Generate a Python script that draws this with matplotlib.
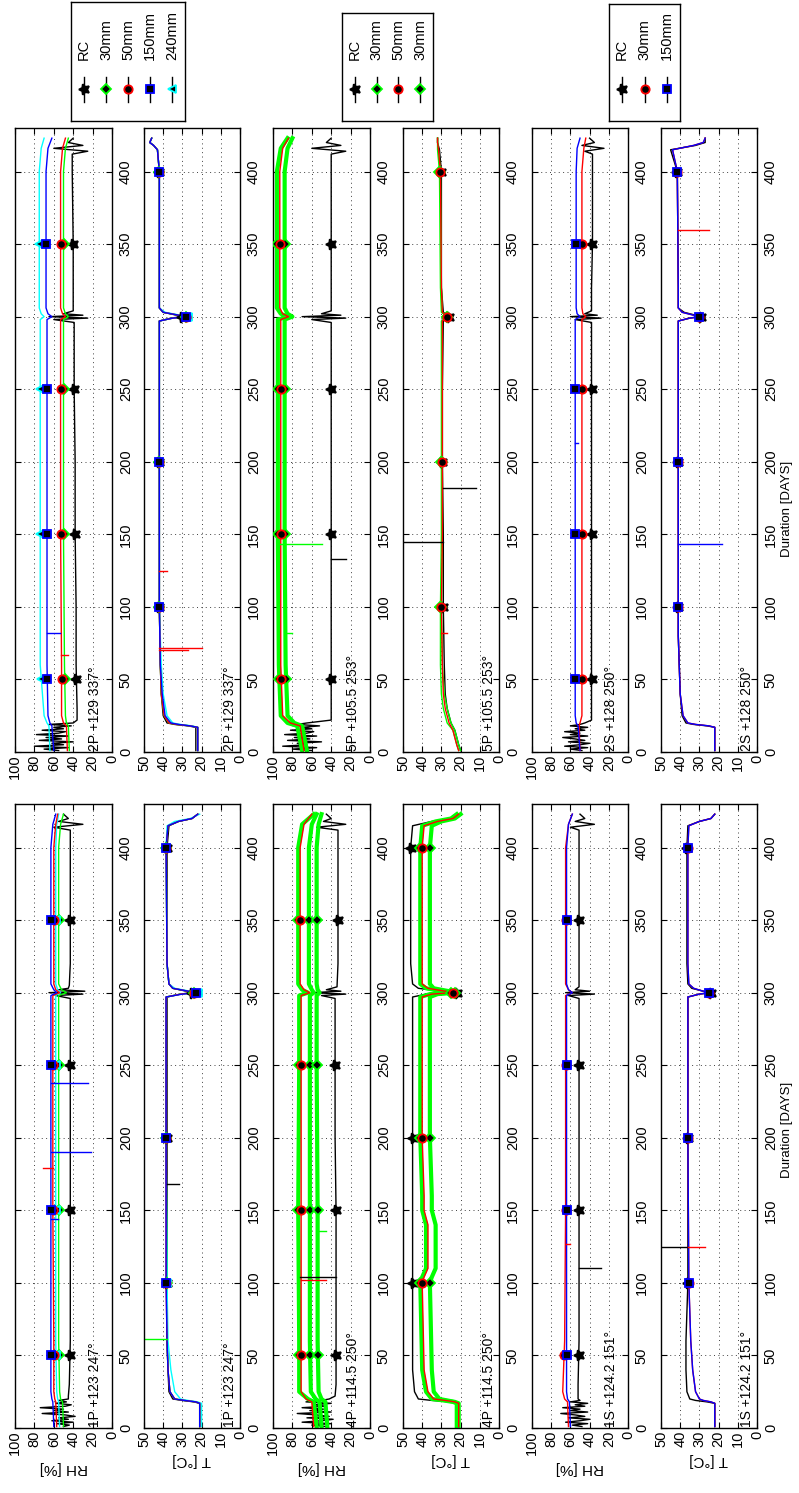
import numpy as np
import matplotlib
matplotlib.use("Agg")
import matplotlib.pyplot as plt

plt.rcParams["font.family"] = ["Liberation Sans", "DejaVu Sans"]

W, H = 799, 1493
# panel strips (pixel x ranges) and halves (pixel y ranges)
COLS = [(15, 112), (144, 240), (273, 370), (403, 499), (532, 628), (661, 757)]
HALVES = {"bot": (804, 1428), "top": (128, 752)}

RH_MARK = [50, 150, 250, 350]
T_MARK = [100, 200, 300, 400]

# ---------------- 1P ----------------
P1_RH_RC_D = [1, 2, 3, 4, 5, 6, 7, 8, 9, 10, 11, 12, 13, 14, 15, 16, 17, 18, 19, 20,
              22, 30, 60, 100, 150, 200, 250, 296, 298, 299, 300, 301, 302, 303, 305,
              320, 350, 400, 412, 414, 416, 418, 420, 423]
P1_RH_RC_V = [50, 44, 57, 40, 62, 45, 55, 38, 48, 72, 45, 60, 50, 74, 48, 42, 58, 47, 55, 45,
              45, 44, 43, 43, 43, 43, 43, 43, 58, 30, 65, 28, 55, 45, 44,
              43, 43, 43, 43, 60, 30, 55, 45, 50]
G_D = [1, 18, 20, 25, 60, 150, 250, 298, 300, 302, 306, 350, 400, 416, 423]
P1_RH_30 = [50, 51, 53, 54, 55, 55, 55, 55, 47, 52, 55, 55, 55, 53, 50]
P1_RH_50 = [57, 58, 59, 60, 60, 61, 61, 61, 54, 58, 60, 60, 60, 58, 56]
P1_RH_150 = [60, 61, 62, 63, 63, 63, 63, 63, 57, 60, 63, 63, 63, 61, 58]
P1_RH_240 = [54, 55, 56, 57, 58, 58, 58, 58, 53, 56, 58, 58, 58, 57, 55]
P1_RH_SPIKES = [("blue", 190, 63, 22), ("blue", 238, 63, 25), ("red", 179, 61, 71),
                ("blue", 144, 63, 56)]

T1_D = [1, 17, 18, 19, 20, 25, 40, 60, 100, 200, 297, 299, 300, 301, 303, 306, 320,
        400, 415, 418, 420, 423]
P1_T_RC = [21, 21, 24, 30, 35, 37, 37.5, 38, 38, 38, 38, 31, 25, 28, 35, 37, 38, 38, 37, 32, 25, 22]
P1_T_30 = [21, 21, 23, 29, 34, 36.5, 37.5, 38, 38, 38.5, 38.5, 31, 24, 27, 35, 37, 38, 38.5, 37.5, 32, 25, 22]
P1_T_50 = [21, 21, 23, 29, 34, 36.5, 37.5, 38, 38.5, 38.5, 38.5, 31, 24, 27, 35, 37, 38, 38.5, 37.5, 32, 25, 22]
P1_T_150 = [21, 21, 23, 29, 34, 36.5, 37.5, 38, 38.5, 38.5, 38.5, 30, 23, 27, 35, 37, 38, 38.5, 37.5, 32, 25, 22]
P1_T_240 = [20, 20, 22, 27, 31, 34, 36, 37.5, 38, 38.5, 38.5, 31, 22, 26, 34, 37, 38, 38.5, 38, 34, 26, 21]
P1_T_SPIKES = [("#00ff00", 61, 38, 50), ("black", 168, 38, 32)]

# ---------------- 4P ----------------
P4_RH_RC_D = [1, 2, 3, 4, 5, 6, 7, 8, 9, 10, 11, 12, 13, 14, 15, 16, 17, 18, 19, 20,
              22, 30, 60, 100, 103, 150, 200, 250, 296, 298, 299, 300, 301, 302, 304,
              320, 350, 400, 412, 414, 416, 418, 420, 423]
P4_RH_RC_V = [45, 60, 40, 70, 50, 38, 65, 42, 55, 75, 40, 62, 48, 70, 45, 58, 40, 66, 50, 42,
              36, 35, 35, 35, 35, 35, 36, 36, 36, 50, 25, 60, 30, 45, 34,
              33, 33, 33, 33, 55, 25, 48, 40, 45]
P4_RH_50 = [58, 60, 66, 71, 71, 71, 71, 71, 62, 68, 72, 72, 72, 68, 60]
P4_RH_30A = [55, 58, 64, 73, 73, 74, 73, 73, 64, 70, 74, 74, 74, 70, 58]
P4_RH_30B = [50, 52, 56, 61, 62, 62, 62, 62, 58, 60, 63, 63, 63, 60, 55]
P4_RH_30C = [44, 46, 50, 53, 54, 54, 55, 55, 52, 54, 55, 55, 55, 53, 50]
P4_RH_SPIKES = [("black", 104, 35, 72), ("red", 102, 71, 45), ("#00ff00", 136, 54, 45)]

T4_D = [1, 17, 18, 19, 20, 25, 40, 100, 104, 110, 140, 150, 160, 200, 250, 297, 299,
        300, 301, 303, 306, 320, 400, 415, 418, 420, 423]
P4_T_RC = [21, 21, 25, 35, 42, 44, 45, 45, 45, 45, 45, 45, 45, 45, 45, 45, 38, 22, 30, 42,
           45, 46, 46, 45, 35, 25, 22]
P4_T_50 = [21, 21, 23, 28, 34, 37, 39, 40, 39, 37, 37, 39, 39, 40, 40, 40, 35, 24, 28, 37,
           40, 40, 40, 39, 32, 24, 21]
P4_T_30A = [22, 22, 24, 29, 35, 38, 40, 41, 40, 38, 38, 40, 40, 41, 41, 41, 36, 25, 29, 38,
            41, 41, 41, 40, 33, 25, 22]
P4_T_30B = [21, 21, 23, 27, 31, 34, 35, 36, 35, 33, 33, 35, 35, 36, 36, 36, 32, 23, 26, 34,
            36, 36, 36, 35, 30, 23, 20]

# ---------------- 1S ----------------
S1_RH_RC_D = [1, 2, 3, 4, 5, 6, 7, 8, 9, 10, 11, 12, 13, 14, 15, 16, 17, 18, 19, 20,
              22, 30, 60, 100, 150, 200, 250, 296, 298, 299, 300, 301, 302, 304, 320,
              350, 400, 412, 414, 416, 418, 420, 423]
S1_RH_RC_V = [48, 58, 42, 65, 50, 40, 62, 45, 55, 70, 42, 60, 50, 68, 45, 55, 42, 60, 50, 52,
              52, 52, 51, 51, 51, 51, 51, 51, 62, 35, 65, 40, 55, 51, 51,
              51, 51, 51, 60, 35, 55, 45, 50]
S1_RH_30 = [62, 63, 66, 68, 66, 65, 65, 65, 58, 62, 65, 65, 65, 62, 58]
S1_RH_150 = [60, 61, 63, 64, 64, 64, 64, 64, 58, 62, 64, 64, 64, 62, 58]
S1_RH_SPIKES = [("black", 110, 51, 28), ("red", 127, 65, 60)]

T6_D = [1, 17, 18, 19, 20, 25, 40, 60, 80, 100, 200, 297, 299, 300, 301, 303, 306, 320,
        400, 415, 418, 420, 423]
S1_T_RC = [22, 22, 26, 32, 35, 36.5, 37, 37, 36.5, 36, 36, 36, 30, 24, 28, 34, 36, 36.5,
           36.5, 36, 30, 24, 22]
S1_T_30 = [22, 22, 24, 28, 30, 32, 33.5, 34.5, 35, 35.5, 36, 36, 30, 25, 28, 33, 35.5, 36,
           36, 35.5, 30, 24, 22]
S1_T_150 = [22, 22, 24, 28, 30, 32, 33.5, 34.5, 35, 35.5, 36, 36, 30, 25, 28, 33, 35.5, 36,
            36, 35.5, 30, 24, 22]
S1_T_SPIKES = [("black", 125, 36, 50), ("red", 125, 36, 27)]

# ---------------- 2P ----------------
P2_RH_RC_D = S1_RH_RC_D
P2_RH_RC_V = [55, 70, 45, 80, 50, 62, 40, 75, 52, 68, 45, 78, 55, 48, 72, 50, 60, 42, 65, 40,
              36, 36, 37, 37, 38, 38, 39, 39, 60, 25, 65, 30, 50, 40, 40,
              40, 41, 41, 25, 60, 30, 45, 40]
P2_RH_30 = [44, 45, 47, 48, 49, 50, 50, 50, 45, 48, 50, 50, 50, 48, 45]
P2_RH_50 = [46, 47, 50, 52, 52, 53, 53, 53, 48, 51, 53, 53, 53, 51, 48]
P2_RH_150 = [60, 62, 64, 66, 67, 67, 67, 67, 62, 66, 68, 68, 68, 66, 62]
P2_RH_240 = [64, 65, 67, 70, 74, 74, 74, 74, 70, 73, 75, 75, 75, 73, 70]
P2_RH_SPIKES = [("blue", 82, 67, 54), ("red", 67, 53, 45), ("red", 350, 53, 48)]

P2_T_RC = [23, 23, 27, 34, 38, 40, 41, 41.5, 42, 42, 42, 36, 30, 33, 40, 42, 42, 42, 43, 45, 47, 46]
P2_T_30 = [22, 22, 26, 33, 37, 39.5, 41, 41.5, 42, 42, 42, 35, 28, 32, 40, 42, 42, 42, 43, 45, 47, 46]
P2_T_50 = [22, 22, 26, 33, 37, 39.5, 41, 41.5, 42, 42, 42, 35, 28, 32, 40, 42, 42, 42, 43, 45, 47, 46]
P2_T_150 = [22, 22, 26, 32, 36, 39, 40.5, 41.5, 42, 42, 42, 35, 28, 32, 40, 42, 42, 42, 43, 45, 47, 46]
P2_T_240 = [22, 22, 25, 31, 35, 38, 40, 41, 42, 42, 42, 35, 27, 31, 39, 42, 42, 42, 43, 45, 47, 46]
P2_T_SPIKES = [("red", 72, 42, 20), ("red", 70, 42, 27), ("red", 125, 42, 38)]

# ---------------- 5P ----------------
P5_RH_RC_V = [60, 80, 55, 90, 65, 75, 50, 85, 62, 78, 55, 88, 65, 58, 82, 60, 70, 52, 75, 65,
              40, 40, 40, 40, 40, 40, 40, 40, 60, 25, 70, 30, 50, 40, 40,
              40, 40, 40, 25, 60, 30, 45, 40]
P5_RH_30A = [70, 75, 85, 92, 94, 95, 95, 95, 85, 92, 96, 96, 96, 92, 85]
P5_RH_50 = [68, 72, 82, 90, 92, 92, 92, 92, 84, 90, 93, 93, 93, 90, 84]
P5_RH_30B = [65, 70, 78, 85, 87, 88, 88, 88, 80, 85, 88, 88, 88, 85, 80]
P5_RH_SPIKES = [("#00ff00", 143, 95, 50), ("black", 133, 40, 25), ("#00ff00", 82, 88, 80)]

T5_D = [1, 5, 10, 15, 20, 30, 40, 60, 100, 150, 200, 250, 297, 300, 303, 320, 400, 415, 420, 423]
P5_T_RC = [20, 21, 22, 23, 25, 27, 28, 28.5, 29, 29, 29.5, 29.5, 29, 26, 29, 30, 30, 31, 32, 32]
P5_T_30A = [21, 22, 23, 24, 27, 29, 30, 30.5, 30.5, 30, 30, 30, 30, 27, 30, 30.5, 31, 32, 32, 32]
P5_T_50 = [21, 22, 23, 24, 26, 28, 29, 29.5, 30, 29.5, 29.5, 29.5, 29.5, 27, 29.5, 30, 30.5, 31.5, 32, 32]
P5_T_30B = [20, 21, 22, 23, 25, 27, 28.5, 29.5, 30, 29.5, 29.5, 29.5, 29.5, 27, 29.5, 30, 30.5, 31.5, 32, 32]
P5_T_SPIKES = [("black", 145, 29, 50), ("black", 182, 29, 12), ("red", 82, 30, 27)]

# ---------------- 2S ----------------
S2_RH_RC_V = [48, 60, 42, 66, 50, 40, 62, 45, 55, 68, 42, 60, 50, 66, 45, 55, 42, 60, 50, 45,
              38, 38, 38, 38, 38, 38, 38, 38, 55, 28, 60, 32, 45, 38, 38,
              37, 37, 37, 45, 25, 48, 35, 40]
S2_RH_30 = [50, 51, 50, 48, 48, 48, 48, 48, 44, 47, 48, 48, 48, 46, 44]
S2_RH_150 = [50, 52, 54, 55, 55, 55, 55, 55, 50, 53, 54, 54, 54, 53, 50]
S2_RH_SPIKES = [("blue", 213, 55, 52)]

S2_T_RC = [22, 22, 26, 33, 37, 39, 40, 40.5, 41, 41, 41, 41, 35, 29, 32, 38, 41, 41, 41.5, 45, 32, 27, 27]
S2_T_30 = [22, 22, 25, 32, 36, 38.5, 40, 40.5, 41, 41, 41, 41, 35, 30, 33, 39, 41, 41, 41.5, 44, 33, 28, 27]
S2_T_150 = [22, 22, 25, 32, 36, 38.5, 40, 40.5, 41, 41, 41, 41, 35, 30, 33, 39, 41, 41, 41.5, 44, 33, 28, 27]
S2_T_SPIKES = [("blue", 143, 41, 18), ("red", 360, 41, 25)]

PANEL_TEXT = {"1P": "1P +123 247°", "2P": "2P +129 337°", "4P": "4P +114.5 250°",
              "5P": "5P +105.5 253°", "1S": "1S +124.2 151°", "2S": "2S +128 250°"}

# sensor styles: colour, marker, marker size, line width
GREEN = "#00ff00"
STY = {
    "RC": ("black", (5, 1, 90), 8, 1.0),
    "30g": (GREEN, "D", 5, 1.0),
    "30gw": (GREEN, "D", 5, 3.0),
    "50": ("red", "o", 6, 1.0),
    "30r": ("red", "o", 6, 1.0),
    "150": ("blue", "s", 5.5, 1.0),
    "240": ("cyan", "<", 6, 1.0),
}


def add_axes_px(x0, x1, y0, y1):
    return fig.add_axes([x0 / W, 1 - y1 / H, (x1 - x0) / W, (y1 - y0) / H])


def panel(col, half, vmax, vstep, series, marks, spikes, text, xlabel=None, dur=None):
    x0, x1 = COLS[col]
    y0, y1 = HALVES[half]
    ax = add_axes_px(x0, x1, y0, y1)
    for d, v, key in series:
        c, m, ms, lw = STY[key]
        ax.plot(v, d, color=c, lw=lw, zorder=2)
        mv = np.interp(marks, d, v)
        ax.plot(mv, marks, ls="none", marker=m, mfc="black", mec=c, ms=ms,
                mew=1.3, zorder=3)
    for c, day, base, tip in spikes:
        ax.plot([base, tip], [day, day], color=c, lw=1.0, zorder=2)
    ax.set_xlim(vmax, 0)
    ax.set_ylim(0, 430)
    ax.set_xticks(np.arange(0, vmax + 1, vstep))
    ax.set_yticks(np.arange(0, 401, 50))
    ax.tick_params(direction="in", length=4, width=0.8, top=True, bottom=True,
                   left=True, right=True, labelleft=False, labelright=True,
                   labelsize=10.5)
    ax.tick_params(axis="x", labelrotation=90, pad=2)
    ax.tick_params(axis="y", labelrotation=90, pad=5)
    for lab in ax.get_yticklabels():
        lab.set_va("center")
    ax.grid(True, ls=(0, (1, 3.5)), color="0.25", lw=0.7)
    for s in ax.spines.values():
        s.set_linewidth(1.0)
    off = 10 if vmax == 100 else 3
    ax.annotate(text, xy=(1, 0), xycoords="axes fraction", xytext=(-off, 1),
                textcoords="offset pixels", rotation=90, ha="right", va="bottom",
                fontsize=10)
    if xlabel:
        ax.set_xlabel(xlabel, rotation=180, fontsize=11, labelpad=4)
    if dur is not None:
        ax.yaxis.set_label_position("right")
        ax.set_ylabel("Duration [DAYS]", rotation=90, fontsize=9.5, va="center")
        ax.yaxis.set_label_coords(1.31, dur)
    return ax


def legend_box(x0, x1, y0, y1, items):
    lax = add_axes_px(x0, x1, y0, y1)
    lax.set_xlim(x0, x1)
    lax.set_ylim(y1, y0)
    lax.set_xticks([])
    lax.set_yticks([])
    for s in lax.spines.values():
        s.set_linewidth(1.0)
    n = len(items)
    xs = np.linspace(x0 + 13, x1 - 13, n)
    for xi, (label, key) in zip(xs, items):
        c, m, ms, lw = STY[key]
        lax.plot([xi, xi], [y1 - 44, y1 - 19], color="black", lw=1.0)
        lax.plot([xi], [y1 - 32], marker=m, mfc="black", mec=c, ms=ms, mew=1.3)
        lax.text(xi, y1 - 61, label, rotation=90, ha="center", va="bottom", fontsize=10.5)


fig = plt.figure(figsize=(W / 100, H / 100), dpi=100)

# 1P / 2P
panel(0, "bot", 100, 20,
      [(P1_RH_RC_D, P1_RH_RC_V, "RC"), (G_D, P1_RH_30, "30g"), (G_D, P1_RH_240, "240"),
       (G_D, P1_RH_50, "50"), (G_D, P1_RH_150, "150")],
      RH_MARK, P1_RH_SPIKES, PANEL_TEXT["1P"], xlabel="RH [%]")
panel(1, "bot", 50, 10,
      [(T1_D, P1_T_RC, "RC"), (T1_D, P1_T_30, "30g"), (T1_D, P1_T_240, "240"),
       (T1_D, P1_T_50, "50"), (T1_D, P1_T_150, "150")],
      T_MARK, P1_T_SPIKES, PANEL_TEXT["1P"], xlabel="T [°C]")
panel(0, "top", 100, 20,
      [(P2_RH_RC_D, P2_RH_RC_V, "RC"), (G_D, P2_RH_30, "30g"), (G_D, P2_RH_240, "240"),
       (G_D, P2_RH_50, "50"), (G_D, P2_RH_150, "150")],
      RH_MARK, P2_RH_SPIKES, PANEL_TEXT["2P"])
panel(1, "top", 50, 10,
      [(T1_D, P2_T_RC, "RC"), (T1_D, P2_T_30, "30g"), (T1_D, P2_T_240, "240"),
       (T1_D, P2_T_50, "50"), (T1_D, P2_T_150, "150")],
      T_MARK, P2_T_SPIKES, PANEL_TEXT["2P"])

# 4P / 5P
panel(2, "bot", 100, 20,
      [(P4_RH_RC_D, P4_RH_RC_V, "RC"), (G_D, P4_RH_30A, "30gw"), (G_D, P4_RH_30B, "30gw"),
       (G_D, P4_RH_30C, "30gw"), (G_D, P4_RH_50, "50")],
      RH_MARK, P4_RH_SPIKES, PANEL_TEXT["4P"], xlabel="RH [%]")
panel(3, "bot", 50, 10,
      [(T4_D, P4_T_RC, "RC"), (T4_D, P4_T_30A, "30gw"), (T4_D, P4_T_30B, "30gw"),
       (T4_D, P4_T_50, "50")],
      T_MARK, [], PANEL_TEXT["4P"], xlabel="T [°C]")
panel(2, "top", 100, 20,
      [(P2_RH_RC_D, P5_RH_RC_V, "RC"), (G_D, P5_RH_30A, "30gw"), (G_D, P5_RH_30B, "30gw"),
       (G_D, P5_RH_50, "50")],
      RH_MARK, P5_RH_SPIKES, PANEL_TEXT["5P"])
panel(3, "top", 50, 10,
      [(T5_D, P5_T_RC, "RC"), (T5_D, P5_T_30A, "30g"), (T5_D, P5_T_30B, "30g"),
       (T5_D, P5_T_50, "50")],
      T_MARK, P5_T_SPIKES, PANEL_TEXT["5P"])

# 1S / 2S
panel(4, "bot", 100, 20,
      [(S1_RH_RC_D, S1_RH_RC_V, "RC"), (G_D, S1_RH_30, "30r"), (G_D, S1_RH_150, "150")],
      RH_MARK, S1_RH_SPIKES, PANEL_TEXT["1S"], xlabel="RH [%]")
panel(5, "bot", 50, 10,
      [(T6_D, S1_T_RC, "RC"), (T6_D, S1_T_30, "30r"), (T6_D, S1_T_150, "150")],
      T_MARK, S1_T_SPIKES, PANEL_TEXT["1S"], xlabel="T [°C]", dur=0.478)
panel(4, "top", 100, 20,
      [(S1_RH_RC_D, S2_RH_RC_V, "RC"), (G_D, S2_RH_30, "30r"), (G_D, S2_RH_150, "150")],
      RH_MARK, S2_RH_SPIKES, PANEL_TEXT["2S"])
panel(5, "top", 50, 10,
      [(T6_D, S2_T_RC, "RC"), (T6_D, S2_T_30, "30r"), (T6_D, S2_T_150, "150")],
      T_MARK, S2_T_SPIKES, PANEL_TEXT["2S"], dur=0.39)

legend_box(71, 185, 2, 121, [("RC", "RC"), ("30mm", "30g"), ("50mm", "50"),
                             ("150mm", "150"), ("240mm", "240")])
legend_box(342, 433, 13, 121, [("RC", "RC"), ("30mm", "30g"), ("50mm", "50"),
                               ("30mm", "30g")])
legend_box(609, 680, 4, 121, [("RC", "RC"), ("30mm", "30r"), ("150mm", "150")])

fig.savefig("out.png", dpi=100)
